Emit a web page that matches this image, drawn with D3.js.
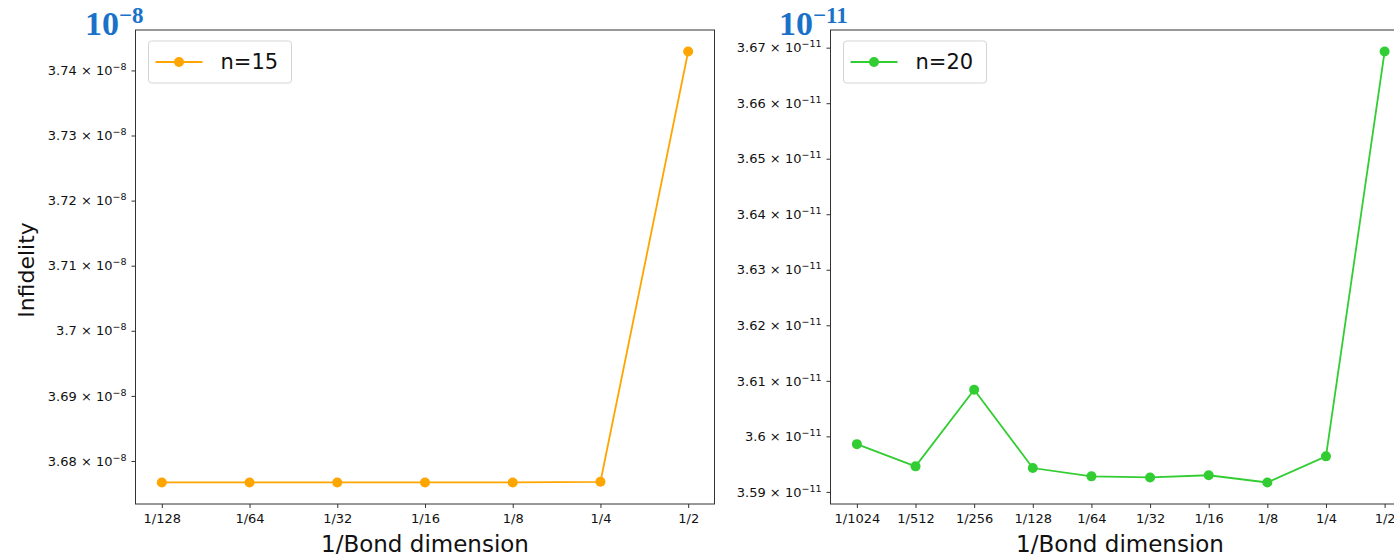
<!DOCTYPE html>
<html>
<head>
<meta charset="utf-8">
<script src="https://cdn.jsdelivr.net/npm/d3@7"></script>
<style>
  html, body { margin: 0; padding: 0; background: #fff; overflow: hidden; }
  svg { display: block; font-family: "DejaVu Sans", sans-serif; }
</style>
</head>
<body>
<svg id="chart" width="1394" height="558"></svg>
<script>
// ---- data ----
const leftLabels = ["1/128", "1/64", "1/32", "1/16", "1/8", "1/4", "1/2"];
const leftExp = [-7, -6, -5, -4, -3, -2, -1];            // log2 of bond-dimension reciprocal
const leftValues = [3.6767, 3.6767, 3.6767, 3.6767, 3.6767, 3.6768, 3.7429]; // ×1e-8
const leftTicks = [3.68, 3.69, 3.70, 3.71, 3.72, 3.73, 3.74];
const leftSeriesName = "n=15";

const rightLabels = ["1/1024", "1/512", "1/256", "1/128", "1/64", "1/32", "1/16", "1/8", "1/4", "1/2"];
const rightExp = [-10, -9, -8, -7, -6, -5, -4, -3, -2, -1];
const rightValues = [3.5986, 3.5946, 3.6084, 3.5943, 3.5928, 3.5926, 3.5930, 3.5917, 3.5964, 3.6693]; // ×1e-11
const rightTicks = [3.59, 3.60, 3.61, 3.62, 3.63, 3.64, 3.65, 3.66, 3.67];
const rightSeriesName = "n=20";

const svg = d3.select("#chart");

function tickLabel(sel, v, exp) {
  sel.text(null);
  const s = d3.format("")(+v.toFixed(2));
  sel.append("tspan").text(s + " × 10");
  sel.append("tspan").attr("dy", -5).attr("font-size", 9.5).text("−" + exp);
}

function panel(opt) {
  const g = svg.append("g");
  const x = d3.scaleLinear()
    .domain([d3.min(opt.exps) - opt.xPad, d3.max(opt.exps) + opt.xPad])
    .range([opt.left, opt.right]);
  const ymin = d3.min(opt.values), ymax = d3.max(opt.values);
  const pad = (ymax - ymin) * 0.05;
  const y = d3.scaleLinear().domain([ymin - pad, ymax + pad]).range([opt.bottom, opt.top]);

  // frame
  g.append("rect")
    .attr("x", opt.left).attr("y", opt.top)
    .attr("width", opt.right - opt.left).attr("height", opt.bottom - opt.top)
    .attr("fill", "none").attr("stroke", "#333").attr("stroke-width", 1);

  // x axis
  const xAxis = d3.axisBottom(x).tickValues(opt.exps)
    .tickFormat((d, i) => opt.labels[i]).tickSize(4).tickPadding(6);
  const xa = g.append("g").attr("transform", `translate(0,${opt.bottom})`).call(xAxis);
  xa.select(".domain").remove();
  xa.selectAll("line").attr("stroke", "#333");
  xa.selectAll("text").attr("font-size", 13).attr("font-family", "DejaVu Sans").attr("fill", "#111");

  // y axis
  const yAxis = d3.axisLeft(y).tickValues(opt.ticks).tickSize(4).tickPadding(5);
  const ya = g.append("g").attr("transform", `translate(${opt.left},0)`).call(yAxis);
  ya.select(".domain").remove();
  ya.selectAll("line").attr("stroke", "#333");
  ya.selectAll("text").attr("font-size", 13).attr("font-family", "DejaVu Sans").attr("fill", "#111")
    .each(function(d) { tickLabel(d3.select(this), d, opt.exp); });

  // line + markers
  const pts = opt.exps.map((e, i) => [e, opt.values[i]]);
  g.append("path").datum(pts)
    .attr("fill", "none").attr("stroke", opt.color).attr("stroke-width", 1.8)
    .attr("d", d3.line().x(d => x(d[0])).y(d => y(d[1])));
  g.selectAll("circle.pt").data(pts).join("circle")
    .attr("cx", d => x(d[0])).attr("cy", d => y(d[1])).attr("r", 5)
    .attr("fill", opt.color);

  // legend
  const lx = opt.left + 13, ly = opt.top + 11;
  g.append("rect").attr("x", lx).attr("y", ly).attr("width", 143).attr("height", 42)
    .attr("rx", 3).attr("fill", "#fff").attr("stroke", "#d5d5d5");
  g.append("line").attr("x1", lx + 7).attr("x2", lx + 54).attr("y1", ly + 21).attr("y2", ly + 21)
    .attr("stroke", opt.color).attr("stroke-width", 1.8);
  g.append("circle").attr("cx", lx + 30.5).attr("cy", ly + 21).attr("r", 5).attr("fill", opt.color);
  g.append("text").attr("x", lx + 72).attr("y", ly + 28).attr("font-size", 21).attr("fill", "#111").text(opt.name);

  // x label
  g.append("text").attr("x", opt.labelX)
    .attr("y", 552).attr("text-anchor", "middle").attr("font-size", 23).attr("fill", "#111").text("1/Bond dimension");

  // blue exponent label
  const bt = g.append("text").attr("x", opt.expX).attr("y", 35)
    .style("font-family", "'Liberation Serif', 'DejaVu Serif', serif").style("font-weight", "bold")
    .attr("font-size", 34).style("fill", "#1a72c8");
  bt.append("tspan").text("10");
  bt.append("tspan").attr("dy", -12).attr("font-size", 23).text("−" + opt.exp);
  return g;
}

panel({
  left: 135.5, right: 714.5, top: 30, bottom: 504,
  exps: leftExp, labels: leftLabels, values: leftValues, ticks: leftTicks,
  xPad: 0.3, exp: 8, color: "#ffa500", name: leftSeriesName, expX: 85, labelX: 425
});
panel({
  left: 830.5, right: 1411, top: 30, bottom: 504,
  exps: rightExp, labels: rightLabels, values: rightValues, ticks: rightTicks,
  xPad: 0.45, exp: 11, color: "#32cd32", name: rightSeriesName, expX: 779, labelX: 1120
});

// y label
svg.append("text").attr("transform", "translate(34,270) rotate(-90)")
  .attr("text-anchor", "middle").attr("font-size", 22).attr("fill", "#111").text("Infidelity");
</script>
</body>
</html>
